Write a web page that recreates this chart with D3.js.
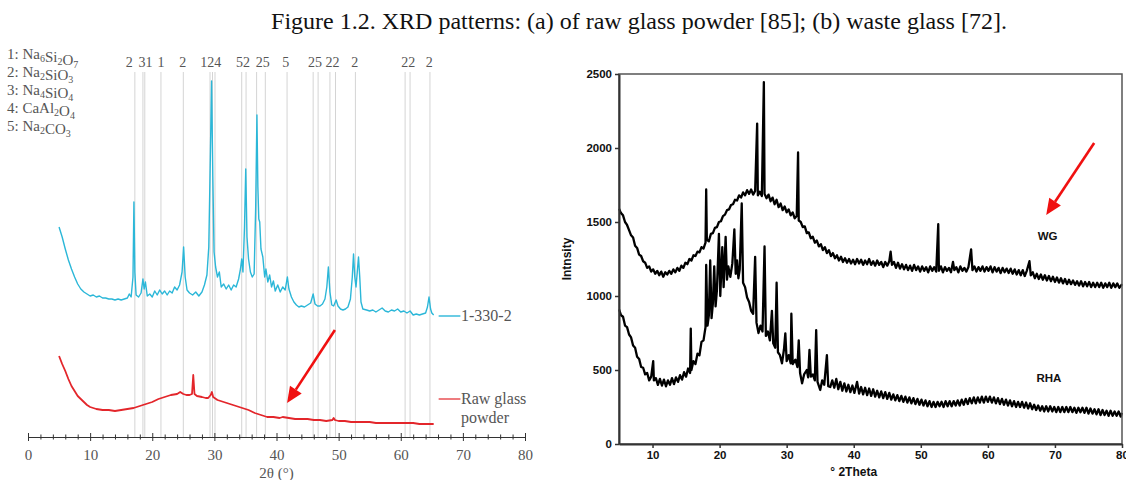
<!DOCTYPE html>
<html>
<head>
<meta charset="utf-8">
<script src="https://cdn.jsdelivr.net/npm/d3@7"></script>
<style>
  body { margin: 0; background: #fff; }
  svg { display: block; }
  .serif { font-family: "Liberation Serif", "Times New Roman", serif; }
  .sans { font-family: "Liberation Sans", Arial, sans-serif; font-weight: bold; }
</style>
</head>
<body>
<script>
// ---- panel (a): raw glass powder, intensity in arbitrary units ----
const phaseKey = ['1: Na6Si2O7', '2: Na2SiO3', '3: Na4SiO4', '4: CaAl2O4', '5: Na2CO3'];
const refLines = [17.2, 18.5, 18.8, 21.4, 25.0, 29.3, 29.7, 30.1, 34.4, 35.1, 36.8, 38.2, 41.7, 45.9, 46.7, 48.6, 49.5, 52.7, 60.7, 61.5, 64.7];
const refLabels = ['2', '31', '1', '2', '124', '52', '25', '5', '25', '22', '2', '22', '2'];
const refLabelAt = [16.3, 18.9, 21.4, 24.9, 29.4, 34.6, 37.8, 41.5, 46.2, 49.0, 52.6, 61.2, 64.6];
const xTicksA = [0, 10, 20, 30, 40, 50, 60, 70, 80];

const sample1330 = [
  [5.0,210],[5.5,200],[6.0,188],[6.5,177],[7.0,168],[7.5,160],[8.0,153],[8.5,148],[9.0,145],[9.5,143],[10.0,141],[10.5,142],[11.0,140],[11.5,141],[12.0,139],[12.5,139],[13.0,138],[13.5,138],[14.0,137],[14.5,138],[15.0,137],[15.5,138],[16.0,139],[16.3,143],[16.6,140],[16.9,160],[17.05,235],[17.2,165],[17.4,142],[17.8,140],[18.2,144],[18.5,158],[18.7,148],[18.9,155],[19.2,141],[19.6,143],[20.0,140],[20.4,146],[20.8,142],[21.2,147],[21.6,143],[22.0,146],[22.4,142],[22.8,146],[23.2,144],[23.6,150],[24.0,147],[24.4,152],[24.8,165],[25.05,190],[25.3,160],[25.6,147],[26.0,144],[26.5,142],[27.0,145],[27.5,141],[28.0,145],[28.4,152],[28.8,162],[29.1,190],[29.35,280],[29.55,356],[29.75,260],[29.95,185],[30.2,170],[30.5,160],[30.8,165],[31.1,150],[31.5,153],[31.9,148],[32.3,152],[32.7,147],[33.1,152],[33.5,150],[33.9,158],[34.2,168],[34.4,178],[34.6,165],[34.85,210],[35.05,268],[35.25,200],[35.5,178],[35.8,165],[36.1,160],[36.4,163],[36.65,230],[36.85,322],[37.0,250],[37.15,218],[37.3,215],[37.5,188],[37.8,180],[38.1,160],[38.3,168],[38.6,155],[38.9,162],[39.2,150],[39.5,156],[39.8,146],[40.2,152],[40.6,145],[41.0,150],[41.4,147],[41.75,160],[42.0,148],[42.4,140],[42.8,135],[43.2,132],[43.6,130],[44.0,131],[44.5,130],[45.0,132],[45.5,134],[45.9,143],[46.2,133],[46.6,131],[47.0,131],[47.4,133],[47.8,138],[48.1,150],[48.35,170],[48.6,145],[48.9,132],[49.2,131],[49.6,137],[49.9,131],[50.3,128],[50.7,127],[51.1,128],[51.5,130],[51.9,138],[52.2,160],[52.4,183],[52.6,160],[52.8,150],[53.0,165],[53.2,180],[53.4,160],[53.6,135],[53.9,128],[54.5,127],[55.0,126],[55.5,127],[56.0,125],[56.5,127],[57.0,129],[57.5,126],[58.0,125],[58.5,127],[59.0,126],[59.5,128],[60.0,125],[60.5,126],[61.0,124],[61.5,126],[62.0,122],[62.5,123],[63.0,122],[63.5,123],[64.0,124],[64.3,130],[64.55,140],[64.8,128],[65.0,124],[65.3,122]
];

const rawGlass = [
  [5.0,81],[5.5,73],[6.0,66],[6.5,58],[7.0,51],[7.5,46],[8.0,41],[8.5,38],[9.0,35],[9.5,32],[10.0,30],[11.0,28],[12.0,27],[13.0,27],[14.0,26],[15.0,27],[16.0,28],[17.0,29],[18.0,31],[19.0,33],[20.0,35],[21.0,38],[22.0,40],[23.0,42],[24.0,43],[24.5,45],[25.0,43],[25.5,42],[26.0,42],[26.4,43],[26.6,62],[26.8,43],[27.2,41],[28.0,40],[28.6,39],[29.0,39],[29.4,42],[29.6,45],[29.8,40],[30.5,37],[31.5,35],[32.5,33],[33.5,31],[34.5,29],[35.5,27],[36.5,24],[37.5,22],[38.5,20],[39.5,20],[40.5,19],[41.0,20],[42.0,19],[43.0,18],[44.0,18],[45.0,18],[46.0,17],[47.0,17],[48.0,16],[49.0,17],[49.2,19],[49.4,17],[50.0,16],[51.0,16],[52.0,15],[53.0,15],[54.0,15],[55.0,15],[56.0,14],[57.0,14],[58.0,14],[59.0,14],[60.0,14],[61.0,14],[62.0,14],[63.0,13],[64.0,13],[65.0,13],[65.3,13]
];

// ---- panel (b): WG and RHA counts ----
const yTicksB = [0, 500, 1000, 1500, 2000, 2500];
const xTicksB = [10, 20, 30, 40, 50, 60, 70, 80];

const wg = [
  [5.0,1590],[5.3,1560],[5.6,1545],[5.9,1500],[6.2,1480],[6.5,1445],[6.8,1410],[7.1,1395],[7.4,1340],[7.7,1325],[8.0,1280],[8.3,1270],[8.6,1235],[8.9,1225],[9.2,1190],[9.5,1200],[9.8,1165],[10.1,1180],[10.4,1150],[10.7,1170],[11.0,1140],[11.3,1165],[11.6,1130],[11.9,1160],[12.2,1145],[12.5,1170],[12.8,1150],[13.1,1180],[13.4,1160],[13.7,1190],[14.0,1170],[14.3,1205],[14.6,1190],[14.9,1225],[15.2,1215],[15.5,1250],[15.8,1240],[16.1,1275],[16.4,1270],[16.7,1300],[17.0,1295],[17.3,1330],[17.6,1320],[17.9,1360],[18.0,1720],[18.1,1380],[18.4,1370],[18.7,1420],[19.0,1425],[19.3,1460],[19.6,1465],[19.9,1500],[20.2,1505],[20.5,1540],[20.8,1550],[21.1,1580],[21.4,1585],[21.7,1615],[22.0,1620],[22.3,1650],[22.6,1645],[22.9,1680],[23.2,1665],[23.5,1700],[23.8,1680],[24.1,1715],[24.4,1690],[24.7,1720],[25.0,1685],[25.3,1710],[25.6,2165],[25.7,1680],[26.0,1705],[26.3,1675],[26.6,2445],[26.7,1690],[27.0,1660],[27.3,1685],[27.6,1640],[27.9,1665],[28.2,1620],[28.5,1650],[28.8,1600],[29.1,1625],[29.4,1580],[29.7,1605],[30.0,1565],[30.3,1585],[30.6,1545],[30.9,1565],[31.2,1525],[31.5,1540],[31.7,1970],[31.8,1510],[32.1,1500],[32.4,1465],[32.7,1470],[33.0,1425],[33.3,1430],[33.6,1390],[33.9,1400],[34.2,1360],[34.5,1375],[34.8,1335],[35.1,1350],[35.4,1310],[35.7,1330],[36.0,1290],[36.3,1310],[36.6,1270],[36.9,1290],[37.2,1255],[37.5,1275],[37.8,1240],[38.1,1265],[38.4,1230],[38.7,1255],[39.0,1225],[39.3,1250],[39.6,1220],[39.9,1245],[40.2,1215],[40.5,1250],[40.8,1220],[41.1,1245],[41.4,1210],[41.7,1240],[42.0,1215],[42.3,1250],[42.6,1210],[42.9,1235],[43.2,1205],[43.5,1240],[43.8,1210],[44.1,1230],[44.4,1195],[44.7,1230],[45.0,1205],[45.3,1235],[45.5,1300],[45.7,1210],[46.0,1230],[46.3,1190],[46.6,1225],[46.9,1185],[47.2,1215],[47.5,1180],[47.8,1210],[48.1,1175],[48.4,1205],[48.7,1170],[49.0,1210],[49.3,1175],[49.6,1200],[49.9,1165],[50.2,1200],[50.5,1170],[50.8,1195],[51.1,1160],[51.4,1200],[51.7,1170],[52.0,1195],[52.3,1165],[52.6,1485],[52.7,1170],[53.0,1200],[53.3,1160],[53.6,1195],[53.9,1170],[54.2,1190],[54.5,1160],[54.8,1230],[55.0,1175],[55.3,1195],[55.6,1160],[55.9,1200],[56.2,1170],[56.5,1190],[56.8,1165],[57.1,1195],[57.5,1315],[57.7,1175],[58.0,1200],[58.3,1165],[58.6,1195],[58.9,1170],[59.2,1200],[59.5,1165],[59.8,1195],[60.1,1170],[60.4,1200],[60.7,1160],[61.0,1195],[61.3,1165],[61.6,1190],[61.9,1155],[62.2,1190],[62.5,1160],[62.8,1185],[63.1,1155],[63.4,1185],[63.7,1150],[64.0,1180],[64.3,1145],[64.6,1175],[64.9,1140],[65.2,1175],[65.5,1135],[65.8,1170],[66.2,1235],[66.4,1140],[66.7,1160],[67.0,1120],[67.3,1150],[67.6,1115],[67.9,1145],[68.2,1110],[68.5,1140],[68.8,1105],[69.1,1135],[69.4,1100],[69.7,1130],[70.0,1095],[70.3,1125],[70.6,1090],[70.9,1120],[71.2,1085],[71.5,1115],[71.8,1080],[72.1,1110],[72.4,1080],[72.7,1105],[73.0,1075],[73.3,1100],[73.6,1070],[73.9,1100],[74.2,1065],[74.5,1095],[74.8,1065],[75.1,1095],[75.4,1060],[75.7,1090],[76.0,1060],[76.3,1090],[76.6,1060],[76.9,1090],[77.2,1055],[77.5,1085],[77.8,1060],[78.1,1090],[78.4,1055],[78.7,1085],[79.0,1060],[79.3,1085],[79.6,1055],[80.0,1080]
];

const rha = [
  [5.0,910],[5.3,870],[5.6,860],[5.9,800],[6.2,790],[6.5,740],[6.8,720],[7.1,665],[7.4,650],[7.7,590],[8.0,575],[8.3,520],[8.6,515],[8.9,470],[9.2,480],[9.5,430],[9.8,455],[10.1,560],[10.2,430],[10.5,445],[10.8,400],[11.1,440],[11.4,395],[11.7,435],[12.0,390],[12.3,430],[12.6,400],[12.9,445],[13.2,405],[13.5,450],[13.8,420],[14.1,465],[14.4,435],[14.7,485],[15.0,455],[15.3,510],[15.6,480],[15.7,780],[15.8,500],[16.1,560],[16.4,540],[16.7,610],[17.0,600],[17.3,690],[17.6,700],[17.9,790],[18.0,1210],[18.2,800],[18.4,870],[18.6,1240],[18.8,850],[19.0,950],[19.2,1200],[19.4,930],[19.6,1040],[19.9,1420],[20.1,1000],[20.4,1330],[20.6,1060],[20.9,1400],[21.1,1110],[21.3,1200],[21.6,1130],[21.9,1220],[22.2,1450],[22.4,1150],[22.6,1240],[22.8,1120],[23.0,1180],[23.3,1625],[23.5,1090],[23.8,1060],[24.1,990],[24.4,960],[24.7,900],[25.0,880],[25.3,1265],[25.5,820],[25.8,750],[26.1,800],[26.4,760],[26.7,1335],[26.9,730],[27.2,760],[27.5,700],[27.8,900],[28.0,680],[28.3,650],[28.5,1090],[28.7,620],[29.0,600],[29.3,545],[29.6,640],[29.8,748],[30.0,560],[30.3,600],[30.6,545],[30.7,880],[30.9,540],[31.3,570],[31.6,520],[31.8,700],[32.0,480],[32.3,410],[32.6,470],[33.0,500],[33.2,450],[33.4,635],[33.6,455],[33.9,470],[34.2,430],[34.4,770],[34.6,420],[35.0,365],[35.3,430],[35.6,400],[36.0,600],[36.2,390],[36.5,385],[36.8,430],[37.1,380],[37.4,440],[37.7,370],[38.0,420],[38.3,360],[38.6,410],[38.9,355],[39.2,400],[39.5,350],[39.8,395],[40.1,345],[40.5,420],[40.8,340],[41.1,385],[41.4,335],[41.7,380],[42.0,330],[42.3,375],[42.6,325],[42.9,370],[43.2,320],[43.5,360],[43.8,315],[44.1,355],[44.4,310],[44.7,350],[45.0,305],[45.3,345],[45.6,300],[45.9,335],[46.2,295],[46.5,330],[46.8,290],[47.1,325],[47.4,285],[47.7,320],[48.0,280],[48.3,315],[48.6,275],[48.9,310],[49.2,270],[49.5,305],[49.8,265],[50.1,300],[50.4,260],[50.7,295],[51.0,255],[51.3,290],[51.6,250],[51.9,285],[52.2,250],[52.5,285],[52.8,255],[53.1,285],[53.4,250],[53.7,290],[54.0,255],[54.3,290],[54.6,255],[54.9,290],[55.2,260],[55.5,295],[55.8,260],[56.1,300],[56.4,265],[56.7,305],[57.0,270],[57.3,310],[57.6,275],[57.9,315],[58.2,275],[58.5,315],[58.8,280],[59.1,320],[59.4,280],[59.7,320],[60.0,285],[60.3,320],[60.6,280],[60.9,315],[61.2,275],[61.5,310],[61.8,270],[62.1,305],[62.4,265],[62.7,300],[63.0,260],[63.3,295],[63.6,255],[63.9,290],[64.2,250],[64.5,285],[64.8,250],[65.1,285],[65.4,245],[65.7,280],[66.0,240],[66.3,275],[66.6,235],[66.9,265],[67.2,230],[67.5,260],[67.8,225],[68.1,255],[68.4,220],[68.7,255],[69.0,220],[69.3,255],[69.6,220],[69.9,250],[70.2,215],[70.5,250],[70.8,215],[71.1,250],[71.4,215],[71.7,250],[72.0,215],[72.3,250],[72.6,215],[72.9,245],[73.2,210],[73.5,245],[73.8,215],[74.1,245],[74.4,210],[74.7,245],[75.0,205],[75.3,240],[75.6,205],[75.9,235],[76.2,200],[76.5,235],[76.8,195],[77.1,230],[77.4,195],[77.7,225],[78.0,190],[78.3,225],[78.6,190],[78.9,220],[79.2,190],[79.5,220],[79.8,185],[80.0,210]
];

const W = 1126, H = 480;
const svg = d3.select('body').append('svg').attr('width', W).attr('height', H);

svg.append('text').attr('class', 'serif')
  .attr('x', 639).attr('y', 29).attr('text-anchor', 'middle')
  .attr('font-size', 24).attr('fill', '#111')
  .text('Figure 1.2. XRD patterns: (a) of raw glass powder [85]; (b) waste glass [72].');

function arrow(g, x1, y1, x2, y2) {
  const a = Math.atan2(y2 - y1, x2 - x1), len = 16, half = 7;
  const bx = x2 - len * Math.cos(a), by = y2 - len * Math.sin(a);
  g.append('line').attr('x1', x1).attr('y1', y1).attr('x2', bx).attr('y2', by)
    .attr('stroke', '#f01010').attr('stroke-width', 2.6);
  g.append('path')
    .attr('d', `M${x2},${y2}L${bx + half * Math.sin(a)},${by - half * Math.cos(a)}L${bx - half * Math.sin(a)},${by + half * Math.cos(a)}Z`)
    .attr('fill', '#f01010');
}

// ================= panel (a) =================
const xa = d3.scaleLinear().domain([0, 80]).range([28, 525]);
const ya = d3.scaleLinear().domain([0, 370]).range([437, 67]);
const ga = svg.append('g');

ga.selectAll('line.ref').data(refLines).join('line').attr('class', 'ref')
  .attr('x1', d => xa(d)).attr('x2', d => xa(d))
  .attr('y1', 72).attr('y2', 437)
  .attr('stroke', '#d4d4d4').attr('stroke-width', 1);

ga.selectAll('text.ref').data(refLabels).join('text').attr('class', 'serif ref')
  .attr('x', (d, i) => xa(refLabelAt[i]))
  .attr('y', 67).attr('text-anchor', 'middle')
  .attr('font-size', 14).attr('fill', '#555')
  .text(d => d);

const key = ga.append('g').attr('class', 'serif').attr('font-size', 15).attr('fill', '#555');
phaseKey.forEach((s, i) => {
  const t = key.append('text').attr('x', 7).attr('y', 59 + i * 18);
  const [lead, formula] = s.split(': ');
  t.append('tspan').text(lead + ': ');
  formula.match(/[A-Za-z]+|\d+/g).forEach(part => {
    if (/\d/.test(part)) {
      t.append('tspan').attr('font-size', 10).attr('dy', 3).text(part);
      t.append('tspan').attr('dy', -3).text('');
    } else {
      t.append('tspan').text(part);
    }
  });
});

const lineA = d3.line().x(d => xa(d[0])).y(d => ya(d[1]));
ga.append('path').datum(sample1330).attr('d', lineA)
  .attr('fill', 'none').attr('stroke', '#2bb7d8').attr('stroke-width', 1.4).attr('stroke-linejoin', 'round');
ga.append('path').datum(rawGlass).attr('d', lineA)
  .attr('fill', 'none').attr('stroke', '#e3262b').attr('stroke-width', 1.8).attr('stroke-linejoin', 'round');

// series legends at right end
ga.append('line').attr('x1', xa(66.1)).attr('x2', xa(69.6)).attr('y1', ya(121)).attr('y2', ya(121))
  .attr('stroke', '#2bb7d8').attr('stroke-width', 1.4);
ga.append('text').attr('class', 'serif').attr('x', xa(69.7)).attr('y', ya(121) + 5)
  .attr('font-size', 16).attr('fill', '#555').text('1-330-2');
ga.append('line').attr('x1', xa(66.1)).attr('x2', xa(69.6)).attr('y1', ya(38)).attr('y2', ya(38))
  .attr('stroke', '#e3262b').attr('stroke-width', 1.2);
ga.append('text').attr('class', 'serif').attr('x', xa(69.7)).attr('y', ya(38) + 5)
  .attr('font-size', 16).attr('fill', '#555').text('Raw glass');
ga.append('text').attr('class', 'serif').attr('x', xa(69.7)).attr('y', ya(38) + 24)
  .attr('font-size', 16).attr('fill', '#555').text('powder');

arrow(ga, xa(49.4), ya(107), xa(41.7), ya(34));

const axA = ga.append('g').attr('transform', 'translate(0,437)')
  .call(d3.axisBottom(xa).tickValues(d3.range(0, 81, 2)).tickSize(0)
    .tickFormat(d => (xTicksA.includes(d) ? d : '')));
axA.select('.domain').attr('stroke', '#333').attr('stroke-width', 1.2);
axA.selectAll('.tick line')
  .attr('y1', d => (d % 10 === 0 ? -4 : -2.5))
  .attr('y2', d => (d % 10 === 0 ? 4 : 2.5))
  .attr('stroke', '#333');
axA.selectAll('.tick text').attr('class', 'serif').attr('y', 12)
  .attr('font-size', 15).attr('fill', '#555');
ga.append('text').attr('class', 'serif').attr('x', xa(40)).attr('y', 478)
  .attr('text-anchor', 'middle').attr('font-size', 15).attr('fill', '#555').text('2θ (°)');

// ================= panel (b) =================
const xb = d3.scaleLinear().domain([5, 80]).range([619, 1122]);
const yb = d3.scaleLinear().domain([0, 2500]).range([444, 74]);
const gb = svg.append('g');

const lineB = d3.line().x(d => xb(d[0])).y(d => yb(d[1]));
[wg, rha].forEach(s => {
  gb.append('path').datum(s).attr('d', lineB)
    .attr('fill', 'none').attr('stroke', '#000').attr('stroke-width', 2.3).attr('stroke-linejoin', 'round');
});

gb.append('rect').attr('x', xb(5)).attr('y', yb(2500))
  .attr('width', xb(80) - xb(5)).attr('height', yb(0) - yb(2500))
  .attr('fill', 'none').attr('stroke', '#555').attr('stroke-width', 1.5);

const axYB = gb.append('g').attr('transform', `translate(${xb(5)},0)`)
  .call(d3.axisLeft(yb).tickValues(yTicksB).tickSize(4).tickSizeOuter(0).tickFormat(d3.format('d')));
const axXB = gb.append('g').attr('transform', `translate(0,${yb(0)})`)
  .call(d3.axisBottom(xb).tickValues(xTicksB).tickSize(4).tickSizeOuter(0));
[axYB, axXB].forEach(a => {
  a.select('.domain').attr('stroke', '#333').attr('stroke-width', 2);
  a.selectAll('.tick line').attr('stroke', '#333').attr('stroke-width', 1.5);
  a.selectAll('.tick text').attr('class', 'sans').attr('font-size', 11.5).attr('fill', '#111');
});

gb.append('text').attr('class', 'sans')
  .attr('transform', `translate(571,${yb(1250)}) rotate(-90)`)
  .attr('text-anchor', 'middle').attr('font-size', 12).attr('fill', '#111').text('Intnsity');
gb.append('text').attr('class', 'sans').attr('x', xb(40)).attr('y', 476)
  .attr('text-anchor', 'middle').attr('font-size', 12).attr('fill', '#111').text('° 2Theta');

gb.append('text').attr('class', 'sans').attr('x', xb(68.9)).attr('y', yb(1380))
  .attr('text-anchor', 'middle').attr('font-size', 11.5).attr('fill', '#111').text('WG');
gb.append('text').attr('class', 'sans').attr('x', xb(69.1)).attr('y', yb(420))
  .attr('text-anchor', 'middle').attr('font-size', 11.5).attr('fill', '#111').text('RHA');

arrow(gb, xb(75.85), yb(2034), xb(68.7), yb(1547));
</script>
</body>
</html>
